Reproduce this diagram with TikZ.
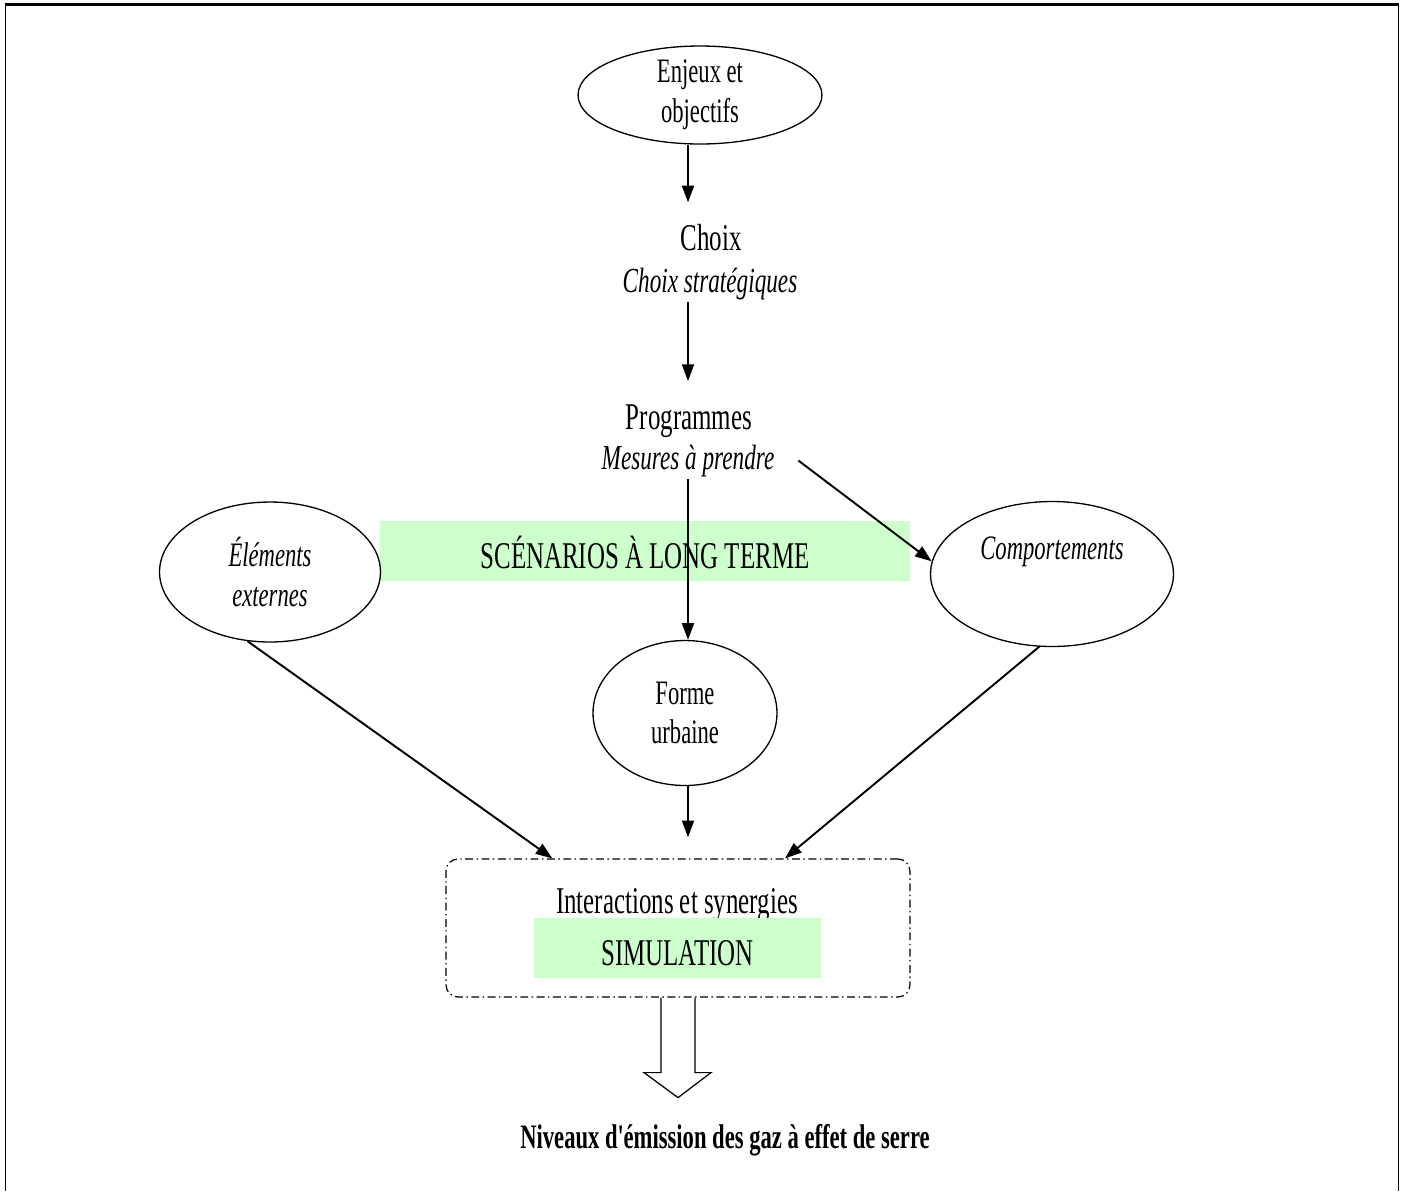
\documentclass[tikz,border=0pt]{standalone}
\usepackage{fontspec}
\setmainfont{Liberation Serif}[FakeStretch=0.66]
\usetikzlibrary{shapes.geometric,arrows.meta,calc}

\def\taille{\fontsize{21.5}{22.8}\selectfont}
\def\petite{\fontsize{19.5}{22.6}\selectfont}
\definecolor{vertclair}{RGB}{204,255,204}

\begin{document}
\begin{tikzpicture}[x=0.02cm, y=-0.02cm, >={Triangle[length=9.5pt,width=6.8pt]}, font=\taille]
    \tikzstyle{bulle}=[ellipse, draw, line width=0.75pt, align=center, inner sep=0pt, font=\petite]
    \tikzstyle{etiq}=[inner sep=1.5pt, anchor=base]
    \tikzstyle{sous etiq}=[etiq, font=\fontsize{20}{22}\selectfont\itshape]
    \tikzstyle{bandeau}=[fill=vertclair, text height=0.68cm, text depth=0cm, inner sep=0pt]
    \tikzstyle{fleche}=[->, line width=1.1pt]

    \useasboundingbox (0,0) rectangle (1402,1191);

    % Draw the frame
    \draw[line width=1.2pt] (4.5,4.5) -- (1399,4.5);
    \draw[line width=0.8pt] (5.5,4.5) -- (5.5,1191);
    \draw[line width=0.8pt] (1398.5,4.5) -- (1398.5,1191);

    \coordinate (axe) at (688,0);

    % Draw the top of the chain
    \node[bulle, minimum width=4.88cm, minimum height=1.96cm, inner ysep=-1pt] (enjeux) at (700,95) {Enjeux et\\objectifs};
    \node[etiq] (choix) at (711,250) {Choix};
    \node[sous etiq] (strat) at (710,292) {Choix stratégiques};
    \node[etiq] (prog) at (689,429) {Programmes};
    \node[sous etiq] (mesures) at (688,469) {Mesures à prendre};

    % Draw the scenario band and the three ellipses
    \node[bandeau, minimum width=10.6cm, minimum height=1.2cm] (scen) at (645,551) {SCÉNARIOS À LONG TERME};
    \node[bulle, minimum width=4.42cm, minimum height=2.8cm, font=\petite\itshape] (elem) at (270,572) {Éléments\\externes};
    \node[bulle, minimum width=4.86cm, minimum height=2.9cm, font=\petite\itshape] (comp) at (1052,574) {Comportements\\\strut};
    \node[bulle, minimum width=3.68cm, minimum height=2.9cm] (forme) at (685,713) {Forme\\urbaine};

    % Draw the simulation box
    \node[draw, rounded corners=0.24cm, line width=0.7pt, dash pattern=on 4.5pt off 2pt on 0.8pt off 2pt,
          minimum width=9.28cm, minimum height=2.76cm] (boite) at (678,928) {};
    \node[etiq] (inter) at (677,913) {Interactions et synergies};
    \node[bandeau, minimum width=5.74cm, minimum height=1.2cm] (simul) at (677.5,948) {SIMULATION};

    % Connect the chain
    \draw[fleche, shorten >=10.5pt] (enjeux.south -| axe) -- (choix.north -| axe);
    \draw[fleche, shorten >=11.5pt] (strat.south -| axe) -- (prog.north -| axe);
    \draw[fleche] (mesures.south -| axe) -- (forme.north -| axe);
    \draw[fleche] ([xshift=12pt]mesures.east) -- (comp.174);

    % Connect the ellipses with the simulation box
    \draw[fleche, shorten >=12pt] (forme.south -| axe) -- (boite.north -| axe);
    \draw[fleche] (elem.252) -- ($(boite.north west)!0.23!(boite.north east)$);
    \draw[fleche] (comp.260) -- ($(boite.north west)!0.73!(boite.north east)$);

    % Hollow arrow and result
    \draw[line width=0.7pt] (boite.south) ++(-17,0) -- ++(0,75) -- ++(-17,0) -- ++(34,25) -- ++(33,-25) -- ++(-16,0) -- ++(0,-75);
    \node[etiq, font=\fontsize{19.5}{21}\selectfont\bfseries] (niveaux) at (725,1148) {Niveaux d\textquotesingle\kern-2pt émission des gaz à effet de serre};
\end{tikzpicture}
\end{document}
